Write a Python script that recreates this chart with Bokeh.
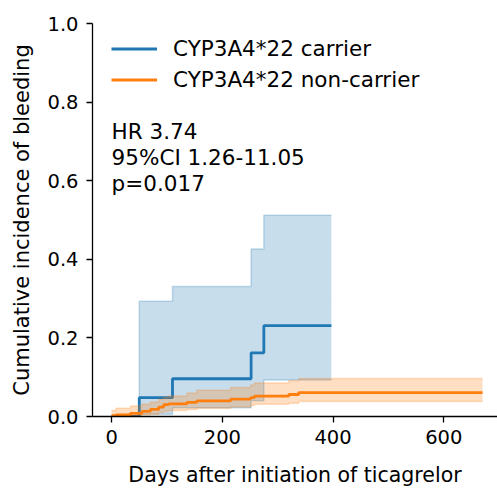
from bokeh.plotting import figure
from bokeh.models import Range1d, FixedTicker, PrintfTickFormatter, Legend, LegendItem, Label
from bokeh.embed import file_html
from bokeh.resources import INLINE

# ---- data ----
carrier_t = [0, 50, 110, 252, 275, 397]
carrier_est = [0.0, 0.048, 0.096, 0.162, 0.231, 0.231]
carrier_upper = [0.0, 0.293, 0.331, 0.426, 0.512, 0.512]
carrier_lower = [0.0, 0.006, 0.022, 0.040, 0.093, 0.093]

noncarrier_t = [0, 8, 34, 55, 70, 85, 94, 103, 136, 154, 215, 251, 258, 320, 338, 670]
noncarrier_est = [0.002, 0.004, 0.008, 0.013, 0.018, 0.024, 0.030, 0.032, 0.036, 0.040,
                  0.044, 0.048, 0.052, 0.056, 0.061, 0.061]
noncarrier_upper = [0.015, 0.021, 0.027, 0.032, 0.037, 0.044, 0.049, 0.052, 0.060, 0.067,
                    0.074, 0.080, 0.085, 0.091, 0.097, 0.097]
noncarrier_lower = [0.000, 0.000, 0.002, 0.004, 0.006, 0.010, 0.013, 0.015, 0.018, 0.021,
                    0.024, 0.028, 0.031, 0.034, 0.038, 0.038]

series_labels = ["CYP3A4*22 carrier", "CYP3A4*22 non-carrier"]
stats_text = ["HR 3.74", "95%CI 1.26-11.05", "p=0.017"]
stats_y = [0.726, 0.659, 0.592]
x_ticks = [0, 200, 400, 600]
y_ticks = [0.0, 0.2, 0.4, 0.6, 0.8, 1.0]

BLUE = "#1f77b4"
ORANGE = "#ff7f0e"
FONT = "DejaVu Sans"

p = figure(width=497, height=489, output_backend="svg", toolbar_location=None,
           x_range=Range1d(-34.5, 697), y_range=Range1d(0, 1),
           min_border_left=92, min_border_right=0, min_border_top=23, min_border_bottom=71)

p.xgrid.visible = False
p.ygrid.visible = False
p.outline_line_color = None
p.background_fill_color = "white"

for ax in (p.xaxis, p.yaxis):
    ax.axis_line_width = 1.3
    ax.axis_line_color = "black"
    ax.major_tick_line_width = 1.3
    ax.major_tick_line_color = "black"
    ax.major_tick_out = 6
    ax.major_tick_in = 0
    ax.minor_tick_line_color = None
    ax.major_label_text_font = FONT
    ax.major_label_text_font_size = "19.5px"
    ax.major_label_text_color = "black"
    ax.axis_label_text_font = FONT
    ax.axis_label_text_font_style = "normal"
    ax.axis_label_text_color = "black"

p.xaxis.axis_label_text_font_size = "20.5px"
p.yaxis.axis_label_text_font_size = "21px"
p.xaxis.ticker = FixedTicker(ticks=x_ticks)
p.yaxis.ticker = FixedTicker(ticks=y_ticks)
p.yaxis.formatter = PrintfTickFormatter(format="%.1f")
p.xaxis.axis_label = "Days after initiation of ticagrelor"
p.yaxis.axis_label = "Cumulative incidence of bleeding"
p.xaxis.major_label_standoff = 7
p.yaxis.major_label_standoff = 8
p.xaxis.axis_label_standoff = 16
p.yaxis.axis_label_standoff = 10

# carrier
r_blue = p.step(carrier_t, carrier_est, mode="after", line_color=BLUE, line_width=2.8)
p.varea_step(x=carrier_t, y1=carrier_lower, y2=carrier_upper, step_mode="after",
             fill_color=BLUE, fill_alpha=0.25)
p.step(carrier_t, carrier_upper, mode="after", line_color=BLUE, line_alpha=0.25, line_width=1.5)
p.step(carrier_t, carrier_lower, mode="after", line_color=BLUE, line_alpha=0.25, line_width=1.5)

# non-carrier
r_orange = p.step(noncarrier_t, noncarrier_est, mode="after", line_color=ORANGE, line_width=2.8)
p.varea_step(x=noncarrier_t, y1=noncarrier_lower, y2=noncarrier_upper, step_mode="after",
             fill_color=ORANGE, fill_alpha=0.25)
p.step(noncarrier_t, noncarrier_upper, mode="after", line_color=ORANGE, line_alpha=0.25, line_width=1.5)
p.step(noncarrier_t, noncarrier_lower, mode="after", line_color=ORANGE, line_alpha=0.25, line_width=1.5)

legend = Legend(items=[LegendItem(label=series_labels[0], renderers=[r_blue]),
                       LegendItem(label=series_labels[1], renderers=[r_orange])],
                location=(19, 321), padding=0, margin=0, spacing=0,
                glyph_width=46, glyph_height=31, label_height=31, label_standoff=16,
                label_text_font=FONT, label_text_font_size="21.5px", label_text_color="black",
                border_line_color=None, background_fill_alpha=0)
p.add_layout(legend)

for txt, yy in zip(stats_text, stats_y):
    p.add_layout(Label(x=0, y=yy, text=txt, text_font=FONT, text_font_size="21.5px",
                       text_color="black", text_baseline="middle", text_align="left"))

open("out.html", "w").write(file_html(p, INLINE))
